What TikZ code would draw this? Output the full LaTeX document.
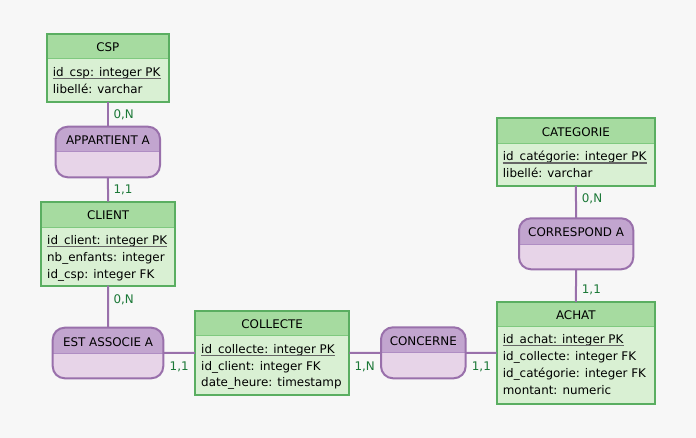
\documentclass[tikz,border=0pt]{standalone}
\usepackage{fontspec}
\setmainfont{DejaVu Sans}
\definecolor{bgc}{HTML}{F7F7F7}
\definecolor{ehd}{HTML}{A6DBA0}
\definecolor{ebd}{HTML}{D9F0D3}
\definecolor{ebr}{HTML}{5AAE61}
\definecolor{edv}{HTML}{7FC97F}
\definecolor{rhd}{HTML}{C2A5CF}
\definecolor{rbd}{HTML}{E7D4E8}
\definecolor{rbr}{HTML}{9970AB}
\definecolor{rdv}{HTML}{AF8DC3}
\definecolor{crd}{HTML}{1B7837}
\definecolor{ulc}{HTML}{666666}
\tikzset{
  entnode/.style={rectangle, fill=ebd, inner sep=0pt, outer sep=0pt},
  ehead/.style={fill=ehd},
  ediv/.style={draw=edv, line width=1pt},
  ebord/.style={draw=ebr, line width=2pt},
  relnode/.style={rectangle, fill=rbd, inner sep=0pt, outer sep=0pt, rounded corners=12pt},
  rhead/.style={fill=rhd},
  rdiv/.style={draw=rdv, line width=1pt},
  rbord/.style={draw=rbr, line width=2pt},
  ttl/.style={anchor=base, inner sep=0pt, text=black, font=\fontsize{11.9}{14}\selectfont},
  rowtxt/.style={anchor=base west, inner sep=0pt, text=black, font=\fontsize{11.9}{14}\selectfont},
  ul/.style={draw=ulc, line width=1.5pt},
  card/.style={anchor=base west, inner sep=0pt, text=crd, font=\fontsize{11.9}{14}\selectfont},
  conn/.style={draw=rbr, line width=2pt}
}
% name, x1, y1, x2, y2, yh, title
\newcommand\entbox[7]{%
  \node[entnode, minimum width={#4-#2}, minimum height={#5-#3}] (#1) at ({(#2+#4)/2},{(#3+#5)/2}) {};
  \fill[ehead] (#2,#3) rectangle (#4,#6);
  \draw[ediv] (#2,#6) -- (#4,#6);
  \draw[ebord] (#2,#3) rectangle (#4,#5);
  \node[ttl] (#1-t) at ({(#2+#4)/2},{#3+17.8}) {#7};
}
\newcommand\relbox[7]{%
  \node[relnode, minimum width={#4-#2}, minimum height={#5-#3}] (#1) at ({(#2+#4)/2},{(#3+#5)/2}) {};
  \fill[rhead] (#2,#6) [rounded corners=12pt] -- (#2,#3) -- (#4,#3) [sharp corners] -- (#4,#6) -- cycle;
  \draw[rdiv] (#2,#6) -- (#4,#6);
  \draw[rbord, rounded corners=12pt] (#2,#3) rectangle (#4,#5);
  \node[ttl] (#1-t) at ({(#2+#4)/2},{#3+18.3}) {#7};
}
% name, x, baseline, text (PK row with underline)
\newcommand\pkrow[4]{%
  \node[rowtxt] (#1) at (#2,#3) {#4\ };
  \draw[ul] ([yshift=-2pt]#1.base west) -- ([yshift=-2pt]#1.base east);
}
\begin{document}
\begin{tikzpicture}[x=1pt, y=-1pt]
\fill[bgc] (0,0) rectangle (696,438);
\useasboundingbox (0,0) rectangle (696,438);

% connectors (drawn first, boxes on top)
\path (108,0) coordinate (dummy);

% entities
\entbox{csp}{46.7}{34}{169}{101.7}{58.3}{CSP}
\pkrow{csp-r1}{52.7}{76.5}{id\_csp: integer PK}
\node[rowtxt] (csp-r2) at (52.7,93.3) {libellé: varchar};

\entbox{client}{41}{201.7}{175.3}{285.7}{227.3}{CLIENT}
\pkrow{client-r1}{47}{244.5}{id\_client: integer PK}
\node[rowtxt] (client-r2) at (47,261.3) {nb\_enfants: integer};
\node[rowtxt] (client-r3) at (47,278.1) {id\_csp: integer FK};

\entbox{coll}{195}{310.7}{349.3}{395}{335.7}{COLLECTE}
\pkrow{coll-r1}{201}{353.3}{id\_collecte: integer PK}
\node[rowtxt] (coll-r2) at (201,370) {id\_client: integer FK};
\node[rowtxt] (coll-r3) at (201,386.7) {date\_heure: timestamp};

\entbox{cat}{496.7}{118.3}{655}{186}{143.3}{CATEGORIE}
\pkrow{cat-r1}{502.7}{160.8}{id\_catégorie: integer PK}
\node[rowtxt] (cat-r2) at (502.7,177.6) {libellé: varchar};

\entbox{achat}{496.7}{302}{655}{404}{326.7}{ACHAT}
\pkrow{achat-r1}{502.7}{343.6}{id\_achat: integer PK}
\node[rowtxt] (achat-r2) at (502.7,360.6) {id\_collecte: integer FK};
\node[rowtxt] (achat-r3) at (502.7,377.6) {id\_catégorie: integer FK};
\node[rowtxt] (achat-r4) at (502.7,394.6) {montant: numeric};

% relations
\relbox{app}{55.7}{126.7}{160}{177.3}{151.7}{APPARTIENT A}
\relbox{est}{52.7}{327.7}{163.3}{378.3}{353.3}{EST ASSOCIE A}
\relbox{conc}{381}{327.3}{465.7}{378.3}{352.7}{CONCERNE}
\relbox{corr}{519}{218.3}{633.3}{269.3}{244.3}{CORRESPOND A}

% connectors
\draw[conn] (csp.south) -- (app.north);
\draw[conn] (app.south) -- (client.north);
\draw[conn] (client.south) -- (est.north);
\draw[conn] (est.east) -- (coll.west);
\draw[conn] (coll.east) -- (conc.west);
\draw[conn] (conc.east) -- (achat.west);
\draw[conn] (cat.south) -- (corr.north);
\draw[conn] (corr.south) -- (achat.north);

% cardinalities
\node[card] (c1) at (113.3,119) {0,N};
\node[card] (c2) at (113.3,193.3) {1,1};
\node[card] (c3) at (113.3,303.3) {0,N};
\node[card] (c4) at (169.5,370.5) {1,1};
\node[card] (c5) at (354.3,370.5) {1,N};
\node[card] (c6) at (471.7,370.5) {1,1};
\node[card] (c7) at (581.7,202.7) {0,N};
\node[card] (c8) at (581.7,294) {1,1};
\end{tikzpicture}
\end{document}
